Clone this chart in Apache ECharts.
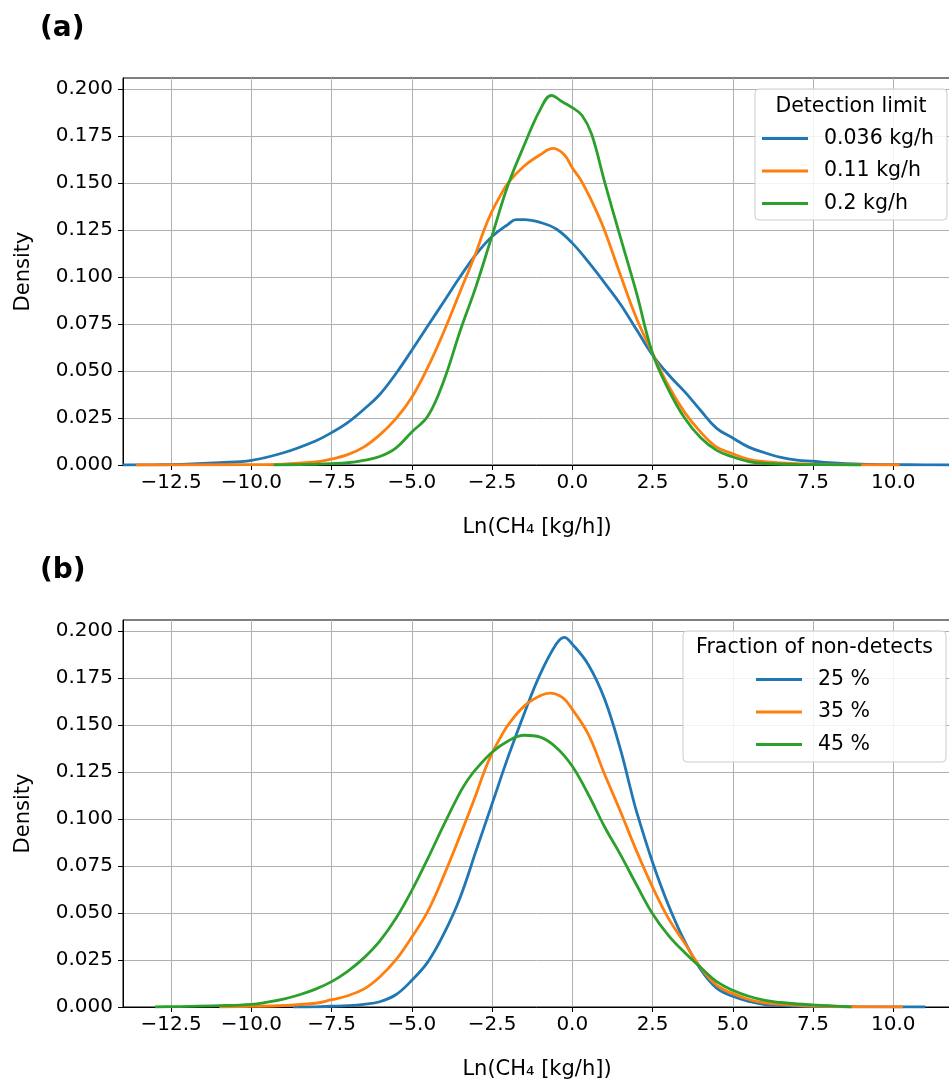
<!DOCTYPE html>
<html>
<head>
<meta charset="utf-8">
<script src="https://cdn.jsdelivr.net/npm/echarts@6/dist/echarts.min.js"></script>
<style>
  html, body { margin: 0; padding: 0; background: #fff; }
  #chart { width: 949px; height: 1079px; }
</style>
</head>
<body>
<div id="chart"></div>
<script>
// tick positions shared by both panels
const xTicks = [-12.5, -10, -7.5, -5, -2.5, 0, 2.5, 5, 7.5, 10];
const yTicks = [0, 0.025, 0.05, 0.075, 0.1, 0.125, 0.15, 0.175, 0.2];

// (a) detection limit
const aNames = ['0.036 kg/h', '0.11 kg/h', '0.2 kg/h'];
const aBlueX = [-14, -13, -12, -11, -10, -9, -8, -7.5, -7, -6.5, -6, -5.5, -5, -4.5, -4, -3.5, -3, -2.5, -2, -1.75, -1.5, -1, -0.5, 0, 0.5, 1, 1.5, 2, 2.5, 3, 3.5, 4, 4.5, 5, 5.5, 6, 6.5, 7, 7.5, 8, 9, 10, 11, 11.8];
const aBlueY = [0, 0.0001, 0.0004, 0.0012, 0.0025, 0.0065, 0.0128, 0.0172, 0.0225, 0.0295, 0.0375, 0.0485, 0.061, 0.074, 0.087, 0.100, 0.112, 0.1215, 0.128, 0.1305, 0.1305, 0.129, 0.1255, 0.118, 0.108, 0.097, 0.0855, 0.072, 0.0585, 0.048, 0.039, 0.029, 0.0195, 0.0144, 0.0095, 0.0065, 0.004, 0.0026, 0.002, 0.0013, 0.0005, 0.0002, 0.0001, 0];
const aOrangeX = [-13.6, -12, -10, -9, -8, -7.5, -7, -6.5, -6, -5.5, -5, -4.5, -4, -3.5, -3, -2.75, -2.5, -2.25, -2, -1.5, -1, -0.6, -0.25, 0, 0.25, 0.5, 0.75, 1, 1.5, 2, 2.5, 3, 3.5, 4, 4.5, 5, 5.5, 6, 7, 8, 9, 10.2];
const aOrangeY = [0, 0.0001, 0.0002, 0.0005, 0.0016, 0.0032, 0.0055, 0.0095, 0.016, 0.0245, 0.036, 0.052, 0.071, 0.092, 0.113, 0.125, 0.135, 0.143, 0.150, 0.159, 0.165, 0.1684, 0.165, 0.158, 0.152, 0.144, 0.135, 0.125, 0.101, 0.078, 0.0594, 0.042, 0.028, 0.0175, 0.0095, 0.006, 0.003, 0.0018, 0.0007, 0.0003, 0.0001, 0];
const aGreenX = [-9.3, -8.5, -8, -7.5, -7, -6.5, -6, -5.5, -5, -4.5, -4, -3.5, -3, -2.5, -2, -1.5, -1, -0.65, -0.3, 0, 0.3, 0.6, 1, 1.5, 2, 2.5, 3, 3.5, 4, 4.5, 5, 5.5, 6, 7, 9];
const aGreenY = [0, 0.0002, 0.0004, 0.0007, 0.0012, 0.0025, 0.0045, 0.009, 0.0176, 0.026, 0.045, 0.071, 0.095, 0.122, 0.149, 0.170, 0.189, 0.1965, 0.193, 0.190, 0.186, 0.176, 0.151, 0.121, 0.0915, 0.0594, 0.040, 0.025, 0.0145, 0.0078, 0.0043, 0.0018, 0.0008, 0.0003, 0];

// (b) fraction of non-detects
const bNames = ['25 %', '35 %', '45 %'];
const bBlueX = [-8.7, -8, -7.5, -7, -6.5, -6, -5.5, -5, -4.5, -4, -3.5, -3, -2.5, -2, -1.5, -1, -0.5, -0.25, 0, 0.5, 1, 1.5, 1.8, 2, 2.5, 3, 3.5, 4, 4.5, 5, 5.5, 6, 7, 8, 9, 11];
const bBlueY = [0, 0.0001, 0.0004, 0.0007, 0.0014, 0.0028, 0.0065, 0.0142, 0.024, 0.039, 0.058, 0.083, 0.108, 0.133, 0.156, 0.177, 0.193, 0.1966, 0.193, 0.182, 0.164, 0.137, 0.117, 0.104, 0.077, 0.054, 0.035, 0.020, 0.010, 0.0057, 0.003, 0.0013, 0.0005, 0.0002, 0.0001, 0];
const bOrangeX = [-11, -10, -9, -8, -7.5, -7, -6.5, -6, -5.5, -5, -4.5, -4, -3.5, -3, -2.75, -2.5, -2.25, -2, -1.5, -1, -0.7, -0.3, 0, 0.5, 1, 1.5, 2, 2.5, 3, 3.5, 4, 4.5, 5, 5.5, 6, 7, 8, 9, 10.3];
const bOrangeY = [0, 0.0003, 0.0008, 0.002, 0.0039, 0.006, 0.0095, 0.016, 0.025, 0.0372, 0.051, 0.070, 0.091, 0.113, 0.125, 0.135, 0.143, 0.150, 0.160, 0.1655, 0.1669, 0.1645, 0.1583, 0.145, 0.124, 0.104, 0.083, 0.0638, 0.047, 0.034, 0.021, 0.0115, 0.0071, 0.004, 0.0022, 0.0009, 0.0004, 0.0001, 0];
const bGreenX = [-13, -12.5, -11, -10, -9.5, -9, -8.5, -8, -7.5, -7, -6.5, -6, -5.5, -5, -4.5, -4, -3.5, -3.25, -3, -2.5, -2, -1.5, -1, -0.5, 0, 0.5, 1, 1.5, 2, 2.5, 3, 3.5, 4, 4.5, 5, 5.5, 6, 6.5, 7, 7.5, 8, 8.7];
const bGreenY = [0, 0.0002, 0.0007, 0.0014, 0.0026, 0.0042, 0.0065, 0.0095, 0.0135, 0.019, 0.026, 0.035, 0.047, 0.062, 0.079, 0.097, 0.114, 0.121, 0.1265, 0.1355, 0.1415, 0.1445, 0.1435, 0.138, 0.128, 0.113, 0.096, 0.081, 0.065, 0.0496, 0.038, 0.029, 0.021, 0.0135, 0.0089, 0.0057, 0.0035, 0.0024, 0.0016, 0.0011, 0.0007, 0];

const colors = ['#1f77b4', '#ff7f0e', '#2ca02c'];
const FONT = 'DejaVu Sans';

const zip = (xs, ys) => xs.map((x, i) => [x, ys[i]]);

function makeSeries(name, xs, ys, color, idx) {
    return {
        name: name,
        type: 'line',
        xAxisIndex: idx,
        yAxisIndex: idx,
        data: zip(xs, ys),
        smooth: 0.4,
        symbol: 'none',
        color: color,
        lineStyle: { width: 2.8, color: color },
        z: 2
    };
}

function xAxisFor(idx) {
    return {
        type: 'value',
        gridIndex: idx,
        min: -14,
        max: 11.8,
        name: 'Ln(CH\u2084 [kg/h])',
        nameLocation: 'middle',
        nameGap: 52,
        nameTextStyle: { fontFamily: FONT, fontSize: 21, color: '#000' },
        axisLine: { show: true, onZero: false, lineStyle: { color: '#000', width: 1 } },
        axisTick: { show: true, length: 5, customValues: xTicks, lineStyle: { color: '#000' } },
        axisLabel: {
            customValues: xTicks,
            margin: 8,
            fontFamily: FONT, fontSize: 20, color: '#000',
            formatter: v => v.toFixed(1).replace('-', '\u2212')
        },
        splitLine: { show: true, lineStyle: { color: '#b0b0b0', width: 1 } }
    };
}

function yAxisFor(idx) {
    return {
        type: 'value',
        gridIndex: idx,
        min: 0,
        max: 0.2058,
        name: 'Density',
        nameLocation: 'middle',
        nameGap: 89,
        nameTextStyle: { fontFamily: FONT, fontSize: 21, color: '#000' },
        axisLine: { show: true, onZero: false, lineStyle: { color: '#000', width: 1 } },
        axisTick: { show: true, length: 5, customValues: yTicks, lineStyle: { color: '#000' } },
        axisLabel: {
            customValues: yTicks,
            margin: 10,
            fontFamily: FONT, fontSize: 20, color: '#000',
            formatter: v => v.toFixed(3)
        },
        splitLine: { show: true, lineStyle: { color: '#b0b0b0', width: 1 } }
    };
}

function legendFor(names, left, top) {
    return {
        data: names,
        orient: 'vertical',
        left: left,
        top: top,
        padding: 0,
        icon: 'rect',
        itemWidth: 46,
        itemHeight: 3,
        itemGap: 11.5,
        z: 20,
        textStyle: { fontFamily: FONT, fontSize: 20.5, color: '#000', lineHeight: 20, padding: [0, 0, 0, 11] }
    };
}

const chart = echarts.init(document.getElementById('chart'));

chart.setOption({
    animation: false,
    backgroundColor: '#fff',
    grid: [
        { left: 123, top: 78, width: 828, height: 387, show: true, borderColor: '#000', borderWidth: 1, outerBoundsMode: 'none' },
        { left: 123, top: 620, width: 828, height: 387, show: true, borderColor: '#000', borderWidth: 1, outerBoundsMode: 'none' }
    ],
    xAxis: [xAxisFor(0), xAxisFor(1)],
    yAxis: [yAxisFor(0), yAxisFor(1)],
    legend: [
        legendFor(aNames, 762, 128),
        legendFor(bNames, 756, 669)
    ],
    series: [
        makeSeries(aNames[0], aBlueX, aBlueY, colors[0], 0),
        makeSeries(aNames[1], aOrangeX, aOrangeY, colors[1], 0),
        makeSeries(aNames[2], aGreenX, aGreenY, colors[2], 0),
        makeSeries(bNames[0], bBlueX, bBlueY, colors[0], 1),
        makeSeries(bNames[1], bOrangeX, bOrangeY, colors[1], 1),
        makeSeries(bNames[2], bGreenX, bGreenY, colors[2], 1)
    ],
    graphic: [
        { type: 'text', left: 40, top: 15, style: { text: '(a)', font: 'bold 28px "DejaVu Sans"', fill: '#000' } },
        { type: 'text', left: 40, top: 557, style: { text: '(b)', font: 'bold 28px "DejaVu Sans"', fill: '#000' } },
        // legend boxes with their titles
        { type: 'rect', z: 10, shape: { x: 755, y: 89, width: 192, height: 131, r: 4 },
          style: { fill: 'rgba(255,255,255,0.85)', stroke: '#cccccc', lineWidth: 1 } },
        { type: 'text', z: 11, x: 851, y: 106.5,
          style: { text: 'Detection limit', font: '20.5px "DejaVu Sans"', fill: '#000', textAlign: 'center', textVerticalAlign: 'middle' } },
        { type: 'rect', z: 10, shape: { x: 683, y: 631, width: 263, height: 131, r: 4 },
          style: { fill: 'rgba(255,255,255,0.85)', stroke: '#cccccc', lineWidth: 1 } },
        { type: 'text', z: 11, x: 814.5, y: 648,
          style: { text: 'Fraction of non-detects', font: '20.5px "DejaVu Sans"', fill: '#000', textAlign: 'center', textVerticalAlign: 'middle' } }
    ]
});
</script>
</body>
</html>
